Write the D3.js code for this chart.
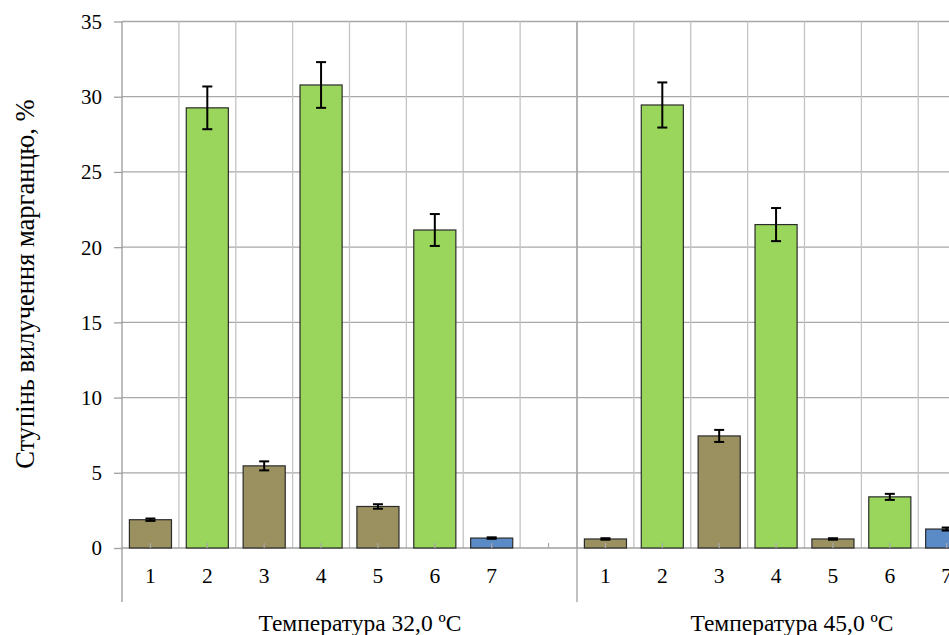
<!DOCTYPE html>
<html><head><meta charset="utf-8">
<script src="https://cdn.jsdelivr.net/npm/d3@7"></script>
<style>body{margin:0;background:#fff;overflow:hidden}svg{display:block}</style>
</head><body><svg id="c" width="949" height="635"></svg>
<script>
const categories = ["1","2","3","4","5","6","7"];
const groups = ["Температура 32,0 ºC","Температура 45,0 ºC"];
const values32 = [1.88, 29.26, 5.46, 30.78, 2.76, 21.14, 0.66];
const errors32 = [0.08, 1.42, 0.30, 1.52, 0.15, 1.06, 0.05];
const values45 = [0.60, 29.45, 7.45, 21.50, 0.60, 3.40, 1.26];
const errors45 = [0.05, 1.50, 0.40, 1.10, 0.05, 0.20, 0.10];
const barTypes = ["olive","green","olive","green","olive","green","blue"];
const yTicks = [0,5,10,15,20,25,30,35];
const yTitle = "Ступінь вилучення марганцю, %";

(function(){
const FONT = "'Liberation Serif', 'Times New Roman', Times, serif";
const colors = {olive:"#9b9160", green:"#9ad55c", blue:"#5b8bc6"};
const svg = d3.select("#c");
const mLeft = 122, mTop = 21.5, mBottom = 548, slotW = 56.875;
const nSlots = 16;
const slots = d3.range(nSlots).map(String);
const x = d3.scaleBand().domain(slots).range([mLeft, mLeft + nSlots*slotW]).padding(0);
const y = d3.scaleLinear().domain([0,35]).range([mBottom, mTop]);

const data = [];
[values32, values45].forEach((vals, g) => {
  const errs = g === 0 ? errors32 : errors45;
  vals.forEach((v,i) => data.push({g, cat:categories[i], v, e:errs[i], t:barTypes[i], slot:String(g*8+i)}));
});

svg.append("g").selectAll("line").data(yTicks.filter(d=>d>0)).join("line")
  .attr("x1", mLeft).attr("x2", 949).attr("y1", d=>y(d)).attr("y2", d=>y(d))
  .attr("stroke","#a8a8a8").attr("stroke-width",1.3);
svg.append("g").selectAll("line").data(d3.range(1,nSlots+1)).join("line")
  .attr("x1", d=>mLeft + d*slotW).attr("x2", d=>mLeft + d*slotW)
  .attr("y1", mTop).attr("y2", mBottom)
  .attr("stroke","#c4c4c4").attr("stroke-width",1.3);

const yAxis = d3.axisLeft(y).tickValues(yTicks).tickSize(8).tickPadding(12);
const ya = svg.append("g").attr("transform",`translate(${mLeft},0)`).call(yAxis)
  .attr("font-family", FONT).attr("font-size", 21);
ya.select(".domain").remove();
ya.selectAll(".tick line").attr("stroke","#a0a0a0").attr("stroke-width",1.3);
ya.selectAll(".tick text").attr("fill","#000").attr("dy","0.33em");
svg.append("line").attr("x1",mLeft).attr("x2",mLeft).attr("y1",mTop).attr("y2",602).attr("stroke","#9a9a9a").attr("stroke-width",1.3);

svg.append("line").attr("x1",mLeft).attr("x2",949).attr("y1",mBottom).attr("y2",mBottom).attr("stroke","#a0a0a0").attr("stroke-width",1.3);
svg.append("line").attr("x1",mLeft+8*slotW).attr("x2",mLeft+8*slotW).attr("y1",mTop).attr("y2",602).attr("stroke","#a0a0a0").attr("stroke-width",1.3);

const bw = x.bandwidth()*0.74;
svg.append("g").selectAll("rect").data(data).join("rect")
  .attr("x", d=>x(d.slot) + (x.bandwidth()-bw)/2)
  .attr("y", d=>y(d.v)).attr("width", bw).attr("height", d=>y(0)-y(d.v))
  .attr("fill", d=>colors[d.t]).attr("stroke","#2b2b2b").attr("stroke-width",1.2);

svg.append("g").selectAll("line").data(slots).join("line")
  .attr("x1", d=>x(d)+x.bandwidth()/2).attr("x2", d=>x(d)+x.bandwidth()/2)
  .attr("y1", mBottom).attr("y2", mBottom-5).attr("stroke","#a8a8a8").attr("stroke-width",1.2);

const eb = svg.append("g").attr("stroke","#000").attr("stroke-width",2);
data.forEach(d => {
  const cx = x(d.slot) + x.bandwidth()/2;
  eb.append("line").attr("x1",cx).attr("x2",cx).attr("y1",y(d.v+d.e)).attr("y2",y(d.v-d.e));
  [d.v+d.e, d.v-d.e].forEach(val => eb.append("line").attr("x1",cx-5).attr("x2",cx+5).attr("y1",y(val)).attr("y2",y(val)));
});

svg.append("g").attr("font-family", FONT).selectAll("text").data(data).join("text")
  .attr("x", d=>x(d.slot)+x.bandwidth()/2).attr("y", 583)
  .attr("text-anchor","middle").attr("font-size",21.5).text(d=>d.cat);

const groupCenters = [360, 792];
svg.append("g").attr("font-family", FONT).selectAll("text").data(groups).join("text")
  .attr("x",(d,i)=>groupCenters[i]).attr("y",631).attr("text-anchor","middle").attr("font-size",23.5).text(d=>d);

svg.append("text").attr("font-family", FONT).attr("transform","translate(34,284) rotate(-90)").attr("text-anchor","middle")
  .attr("font-size",26.5).text(yTitle);
})();
</script></body></html>
